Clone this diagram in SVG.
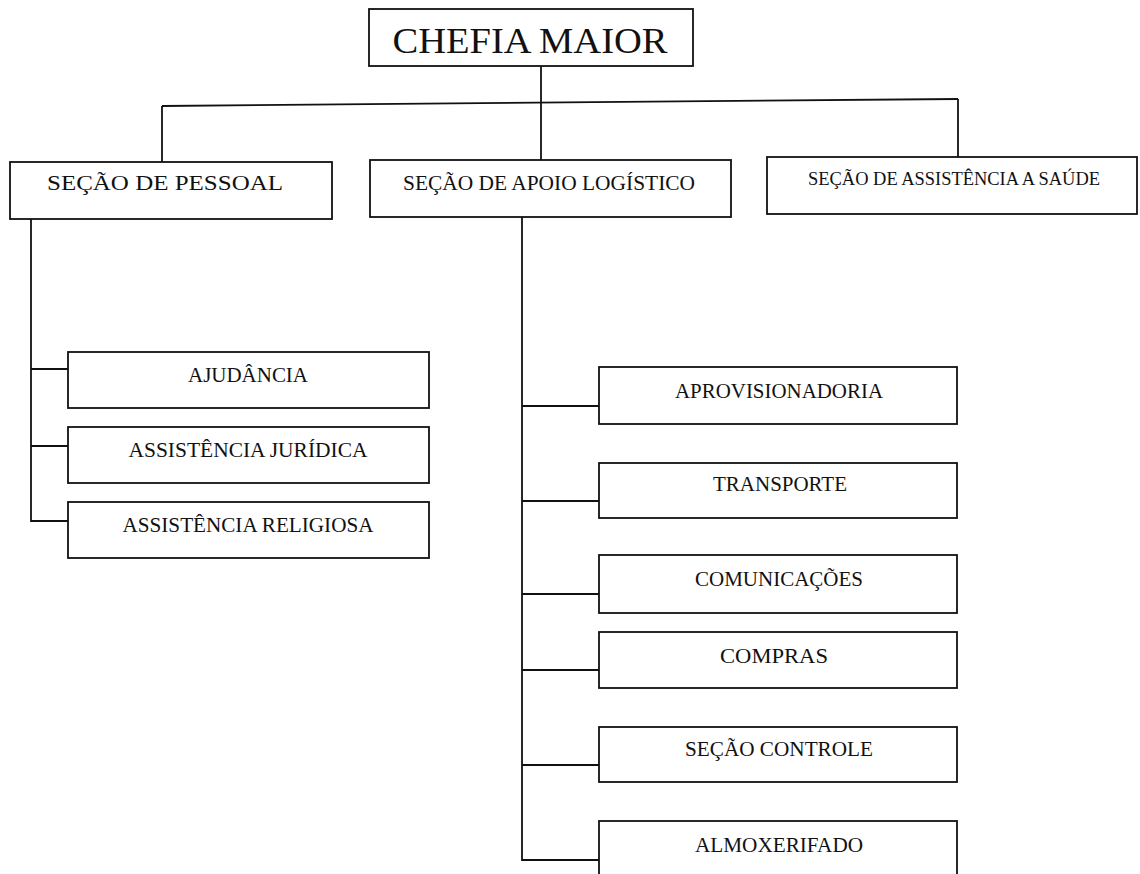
<svg xmlns="http://www.w3.org/2000/svg" width="1140" height="874" viewBox="0 0 1140 874">
  <style>
    .box { fill: #ffffff; stroke: #111111; stroke-width: 1.8; }
    .wire { fill: none; stroke: #111111; stroke-width: 1.8; }
    .lbl { font-family: "Liberation Serif", "Times New Roman", serif; fill: #111111; text-anchor: middle; }
    .top { font-size: 36px; }
    .sec { font-size: 22px; }
    .sub { font-size: 21px; }
  </style>
  <rect width="1140" height="874" fill="#ffffff"/>

  <!-- connectors -->
  <g id="connectors" class="wire">
    <line x1="541" y1="66" x2="541" y2="103"/>
    <line x1="162" y1="106" x2="958" y2="99"/>
    <line x1="162" y1="106" x2="162" y2="162"/>
    <line x1="541" y1="103" x2="541" y2="160"/>
    <line x1="958" y1="99" x2="958" y2="157"/>
    <!-- personnel branch -->
    <polyline points="31,219 31,521 68,521"/>
    <line x1="31" y1="369" x2="68" y2="369"/>
    <line x1="31" y1="446" x2="68" y2="446"/>
    <!-- logistics branch -->
    <polyline points="522,217 522,860 599,860"/>
    <line x1="522" y1="406" x2="599" y2="406"/>
    <line x1="522" y1="501" x2="599" y2="501"/>
    <line x1="522" y1="594" x2="599" y2="594"/>
    <line x1="522" y1="670" x2="599" y2="670"/>
    <line x1="522" y1="765" x2="599" y2="765"/>
  </g>

  <g id="chefia-maior">
    <rect class="box" x="369" y="9" width="324" height="57"/>
    <text class="lbl top" x="530" y="53" textLength="275" lengthAdjust="spacingAndGlyphs">CHEFIA MAIOR</text>
  </g>

  <g id="secao-pessoal">
    <rect class="box" x="10" y="162" width="322" height="57"/>
    <text class="lbl sec" x="165" y="190" textLength="236" lengthAdjust="spacingAndGlyphs">SEÇÃO DE PESSOAL</text>
  </g>
  <g id="secao-apoio-logistico">
    <rect class="box" x="370" y="160" width="361" height="57"/>
    <text class="lbl sec" x="549" y="190" textLength="292" lengthAdjust="spacingAndGlyphs">SEÇÃO DE APOIO LOGÍSTICO</text>
  </g>
  <g id="secao-assistencia-saude">
    <rect class="box" x="767" y="157" width="370" height="57"/>
    <text class="lbl" x="954" y="185" font-size="18" textLength="292" lengthAdjust="spacingAndGlyphs">SEÇÃO DE ASSISTÊNCIA A SAÚDE</text>
  </g>

  <g id="ajudancia">
    <rect class="box" x="68" y="352" width="361" height="56"/>
    <text class="lbl sub" x="248" y="382" textLength="120" lengthAdjust="spacingAndGlyphs">AJUDÂNCIA</text>
  </g>
  <g id="assistencia-juridica">
    <rect class="box" x="68" y="427" width="361" height="56"/>
    <text class="lbl sub" x="248" y="457" textLength="239" lengthAdjust="spacingAndGlyphs">ASSISTÊNCIA JURÍDICA</text>
  </g>
  <g id="assistencia-religiosa">
    <rect class="box" x="68" y="502" width="361" height="56"/>
    <text class="lbl sub" x="248" y="532" textLength="251" lengthAdjust="spacingAndGlyphs">ASSISTÊNCIA RELIGIOSA</text>
  </g>

  <g id="aprovisionadoria">
    <rect class="box" x="599" y="367" width="358" height="57"/>
    <text class="lbl sub" x="779" y="398" textLength="208" lengthAdjust="spacingAndGlyphs">APROVISIONADORIA</text>
  </g>
  <g id="transporte">
    <rect class="box" x="599" y="463" width="358" height="55"/>
    <text class="lbl sub" x="780" y="491" textLength="134" lengthAdjust="spacingAndGlyphs">TRANSPORTE</text>
  </g>
  <g id="comunicacoes">
    <rect class="box" x="599" y="555" width="358" height="58"/>
    <text class="lbl sub" x="779" y="586" textLength="168" lengthAdjust="spacingAndGlyphs">COMUNICAÇÕES</text>
  </g>
  <g id="compras">
    <rect class="box" x="599" y="632" width="358" height="56"/>
    <text class="lbl sub" x="774" y="663" textLength="108" lengthAdjust="spacingAndGlyphs">COMPRAS</text>
  </g>
  <g id="secao-controle">
    <rect class="box" x="599" y="727" width="358" height="55"/>
    <text class="lbl sub" x="779" y="756" textLength="188" lengthAdjust="spacingAndGlyphs">SEÇÃO CONTROLE</text>
  </g>
  <g id="almoxerifado">
    <rect class="box" x="599" y="821" width="358" height="70"/>
    <text class="lbl sub" x="779" y="852" textLength="168" lengthAdjust="spacingAndGlyphs">ALMOXERIFADO</text>
  </g>
</svg>
